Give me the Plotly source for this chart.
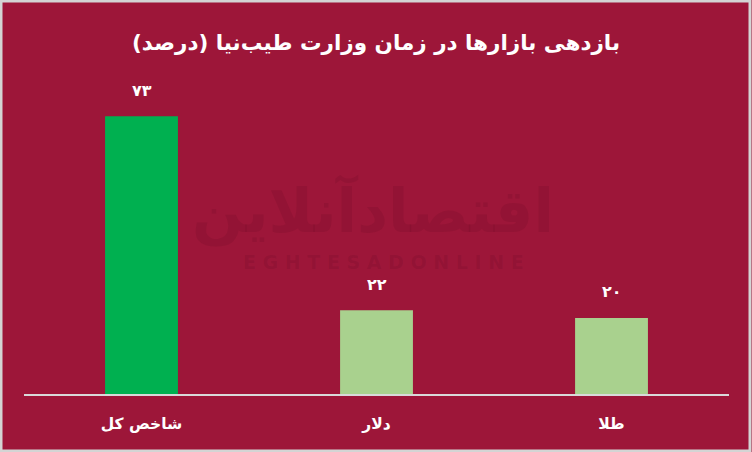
import plotly.graph_objects as go

categories = ["شاخص کل", "دلار", "طلا"]
values = [73, 22, 20]
colors = ["#00B050", "#A9D18E", "#A9D18E"]
title_text = "بازدهی بازارها در زمان وزارت طیب\u200cنیا (درصد)"

def fa_digits(n):
    return str(n).translate(str.maketrans("0123456789", "۰۱۲۳۴۵۶۷۸۹"))

labels = [fa_digits(v) for v in values]

BG = "#9D1639"
FONT = "DejaVu Sans"

fig = go.Figure()
fig.add_trace(go.Bar(
    x=categories, y=values,
    marker=dict(color=colors, line=dict(width=0)),
    hoverinfo="skip",
))

for c, v, t in zip(categories, values, labels):
    fig.add_annotation(x=c, y=v, text="<b>%s</b>" % t, showarrow=False,
                       yshift=26, font=dict(family=FONT, size=16, color="white"))

# watermark
wm = "rgba(60,0,20,0.10)"
fig.add_annotation(xref="paper", yref="paper", x=0.495, y=0.585, text="<b>اقتصادآنلاین</b>",
                   showarrow=False, font=dict(family=FONT, size=60, color=wm))
fig.add_annotation(xref="paper", yref="paper", x=0.51, y=0.42, text="<b>E G H T E S A D O N L I N E</b>",
                   showarrow=False, font=dict(family=FONT, size=19, color=wm))

fig.update_layout(
    width=752, height=452,
    paper_bgcolor=BG, plot_bgcolor=BG,
    margin=dict(l=24, r=23, t=80, b=58),
    bargap=0.69,
    showlegend=False,
    title=dict(text="<b>%s</b>" % title_text, x=0.5, xanchor="center", y=1 - 42 / 452, yanchor="middle",
               font=dict(family=FONT, size=21.5, color="white")),
    xaxis=dict(showgrid=False, showline=True, linecolor="#D9D9D9", linewidth=2,
               ticks="", tickfont=dict(family=FONT, size=15.5, color="white"),
               tickmode="array", tickvals=categories,
               ticktext=["<b>%s</b>" % c for c in categories],
               ticklabelstandoff=14, fixedrange=True),
    yaxis=dict(range=[0, 82.5], visible=False, showgrid=False, zeroline=False, fixedrange=True),
    shapes=[dict(type="rect", xref="paper", yref="paper", x0=-23 / 705, x1=1 + 21 / 705,
                 y0=-57 / 314, y1=1 + 79 / 314, line=dict(color="#D4D4D4", width=3),
                 fillcolor="rgba(0,0,0,0)", layer="above")],
)

fig.write_html("out.html", config={"displayModeBar": False},
               post_script="document.body.style.margin='0';")
